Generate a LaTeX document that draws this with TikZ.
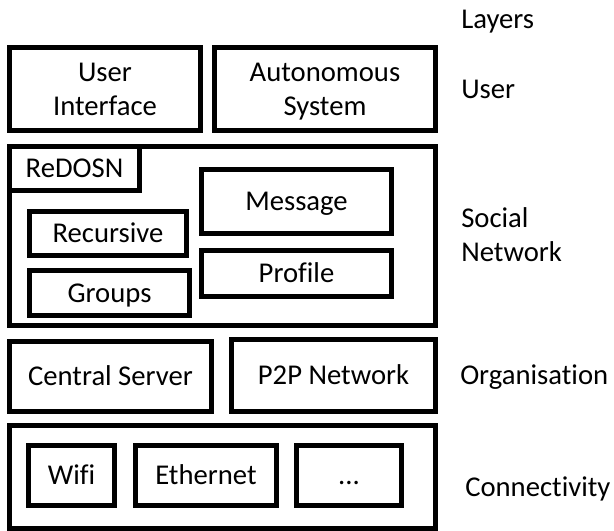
\documentclass[tikz,border=0pt]{standalone}
\usepackage{fontspec}
\setmainfont[Ligatures=NoCommon]{Carlito}
\begin{document}
\begin{tikzpicture}[x=0.75pt,y=-0.75pt,
  every node/.style={font=\fontsize{21.5}{25.8}\selectfont},
  bx/.style={draw=black, line width=3.75pt, inner sep=0pt, align=center},
  sz/.style 2 args={minimum width={#1*0.75pt}, minimum height={#2*0.75pt}},
  one/.style={text height=13.85pt, text depth=0pt},
  two/.style={text depth=-3pt},
  lab/.style={anchor=base west, inner sep=0pt}]
\useasboundingbox (0,0) rectangle (614,531);
% User layer
\node[bx, two, sz={191}{82.5}] (ui) at (105,89.25) {User\\Interface};
\node[bx, two, sz={221}{82.5}] (as) at (325,89.25) {Autonomous\\System};
% Social network layer
\node[bx, sz={426}{179}] (sn) at (222.5,236) {};
\node[bx, one, sz={130}{44}] (redosn) at (74.5,168.5) {ReDOSN};
\node[bx, one, sz={190}{64}] (msg) at (296.5,201.5) {Message};
\node[bx, one, sz={190}{46}] (prof) at (296.5,273.5) {Profile};
\node[bx, one, sz={157}{44}] (rec) at (108,233.5) {Recursive};
\node[bx, one, sz={160}{45}] (grp) at (109.5,293) {Groups};
% Organisation layer
\node[bx, one, sz={202}{70}] (cs) at (110.5,376) {Central Server};
\node[bx, one, sz={204}{72}] (p2p) at (333.5,375.5) {P2P Network};
% Connectivity layer
\node[bx, sz={426}{103}] (conn) at (222.5,477) {};
\node[bx, one, sz={86}{60}] (wifi) at (71.5,475.5) {Wifi};
\node[bx, one, sz={141}{60}] (eth) at (206,475.5) {Ethernet};
\node[bx, one, sz={105}{60}] (more) at (349,475.5) {...};
% Layer labels
\node[lab] (llayers) at (461,28.3) {Layers};
\node[lab] (luser) at (461,98.3) {User};
\node[lab] (lsocial) at (461,227.3) {\begin{tabular}[t]{@{}l@{}}Social\\Network\end{tabular}};
\node[lab] (lorg) at (460,384) {Organisation};
\node[lab] (lconn) at (465,496.7) {Connectivity};
\end{tikzpicture}
\end{document}
